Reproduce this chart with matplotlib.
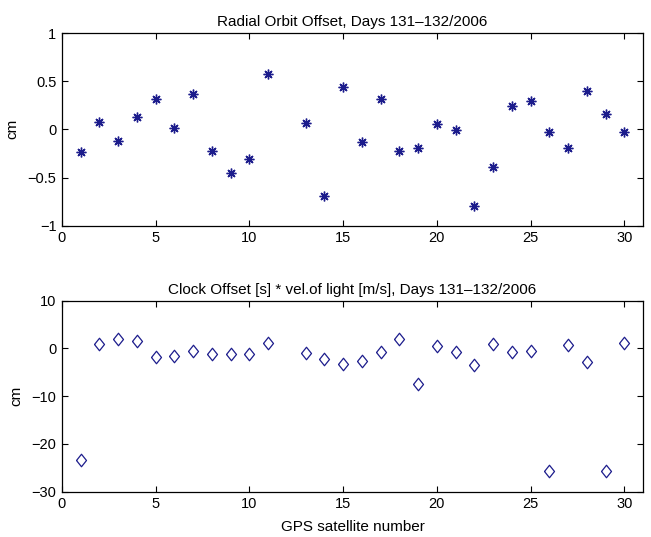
import matplotlib.pyplot as plt
from matplotlib.ticker import FuncFormatter

plt.rcParams["font.family"] = ["Liberation Sans", "DejaVu Sans"]

# satellite 12 has no solution
sats = [1, 2, 3, 4, 5, 6, 7, 8, 9, 10, 11, 13, 14, 15, 16, 17, 18, 19, 20,
        21, 22, 23, 24, 25, 26, 27, 28, 29, 30]
radial_cm = [-0.23, 0.08, -0.125, 0.13, 0.315, 0.015, 0.37, -0.22, -0.455,
             -0.305, 0.575, 0.07, -0.69, 0.435, -0.13, 0.31, -0.22, -0.19,
             0.06, -0.005, -0.80, -0.39, 0.24, 0.29, -0.025, -0.19, 0.40,
             0.155, -0.03]
clock_cm = [-23.4, 0.9, 1.9, 1.5, -1.9, -1.5, -0.5, -1.25, -1.1, -1.25, 1.05,
            -0.9, -2.3, -3.2, -2.7, -0.8, 2.0, -7.5, 0.5, -0.85, -3.5, 0.9,
            -0.7, -0.6, -25.75, 0.8, -2.8, -25.7, 1.1]

title_top = "Radial Orbit Offset, Days 131\u2013132/2006"
title_bot = "Clock Offset [s] * vel.of light [m/s], Days 131\u2013132/2006"
color = "#1c1c8c"
diamond = [(-0.8, 0), (0, 1), (0.8, 0), (0, -1), (-0.8, 0)]


def fmt(v, pos):
    return ("%g" % v).replace("-", "\u2212")


fig = plt.figure(figsize=(6.51, 5.37), dpi=100)
ax1 = fig.add_axes([0.0952, 0.5797, 0.8925, 0.3588])
ax2 = fig.add_axes([0.0952, 0.0844, 0.8925, 0.3557])

ax1.plot(sats, radial_cm, linestyle="none", marker=(8, 2, 0), ms=7,
         mew=1.0, color=color)
ax1.set_ylim(-1, 1)
ax1.set_yticks([-1, -0.5, 0, 0.5, 1])
ax1.set_title(title_top, fontsize=11, pad=5)
ax1.set_ylabel("cm", fontsize=11, labelpad=6)

ax2.plot(sats, clock_cm, linestyle="none", marker=diamond, ms=9, mew=0.9,
         mfc="none", mec=color)
ax2.set_ylim(-30, 10)
ax2.set_yticks([-30, -20, -10, 0, 10])
ax2.set_title(title_bot, fontsize=11, pad=5)
ax2.set_ylabel("cm", fontsize=11, labelpad=6)
ax2.set_xlabel("GPS satellite number", fontsize=11, labelpad=6)

for ax in (ax1, ax2):
    ax.set_xlim(0, 31)
    ax.set_xticks([0, 5, 10, 15, 20, 25, 30])
    ax.xaxis.set_major_formatter(FuncFormatter(fmt))
    ax.yaxis.set_major_formatter(FuncFormatter(fmt))
    ax.tick_params(direction="in", top=True, right=True, length=4,
                   width=0.8, labelsize=10.5, pad=4)
    for s in ax.spines.values():
        s.set_linewidth(0.9)

fig.savefig("out.png", dpi=100)
